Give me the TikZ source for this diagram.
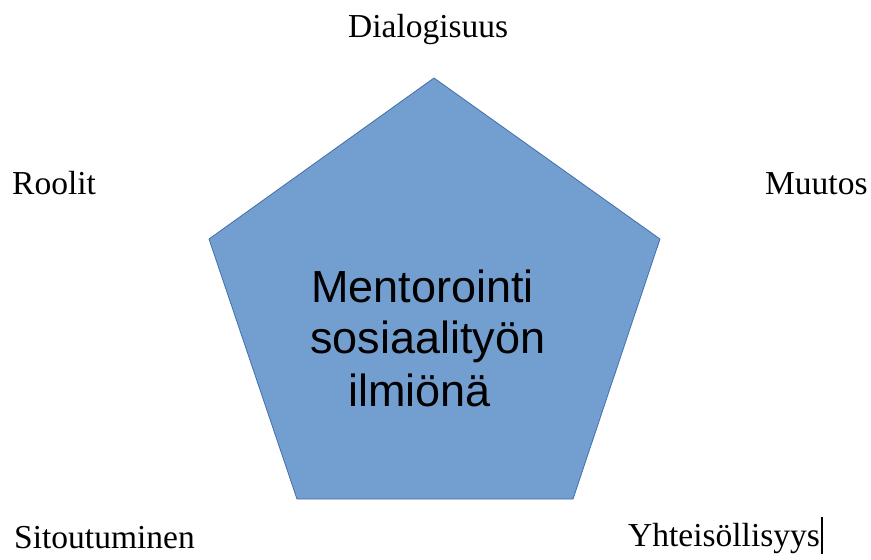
\documentclass[tikz,border=0pt]{standalone}
\usepackage{fontspec}
\setmainfont{Liberation Serif}
\newfontfamily\centerfont{Liberation Sans}
\begin{document}
\begin{tikzpicture}[x=1pt,y=-1pt,
  lbl/.style={font=\fontsize{33.5}{40}\selectfont, inner sep=0pt, anchor=base west},
  ctr/.style={font=\centerfont\fontsize{45}{52}\selectfont, inner sep=0pt, anchor=base west},
  penta/.style={fill=penfill, draw=penedge, line width=0.8pt, line join=miter}]
\definecolor{penfill}{RGB}{114,159,207}
\definecolor{penedge}{RGB}{70,110,170}
\useasboundingbox (0,0) rectangle (871,560);
\coordinate (pt) at (434,78);
\coordinate (pr) at (660,239);
\coordinate (pbr) at (573,499);
\coordinate (pbl) at (297,499);
\coordinate (pl) at (209,239);
\draw[penta] (pt) -- (pr) -- (pbr) -- (pbl) -- (pl) -- cycle;
\node[ctr] (c1) at (311,302) {Mentorointi};
\node[ctr] (c2) at (310,353) {sosiaalityön};
\node[ctr] (c3) at (348,406) {ilmiönä};
\node[lbl] (dia) at (348,37) {Dialogisuus};
\node[lbl] (roo) at (12,194) {Roolit};
\node[lbl] (muu) at (765,194) {Muutos};
\node[lbl] (sit) at (14,548) {Sitoutuminen};
\node[lbl] (yht) at (628,546) {Yhteisöllisyys};
\draw[line width=1.3pt] ([xshift=2pt]yht.base east) ++(0,-29) -- ++(0,37);
\end{tikzpicture}
\end{document}
